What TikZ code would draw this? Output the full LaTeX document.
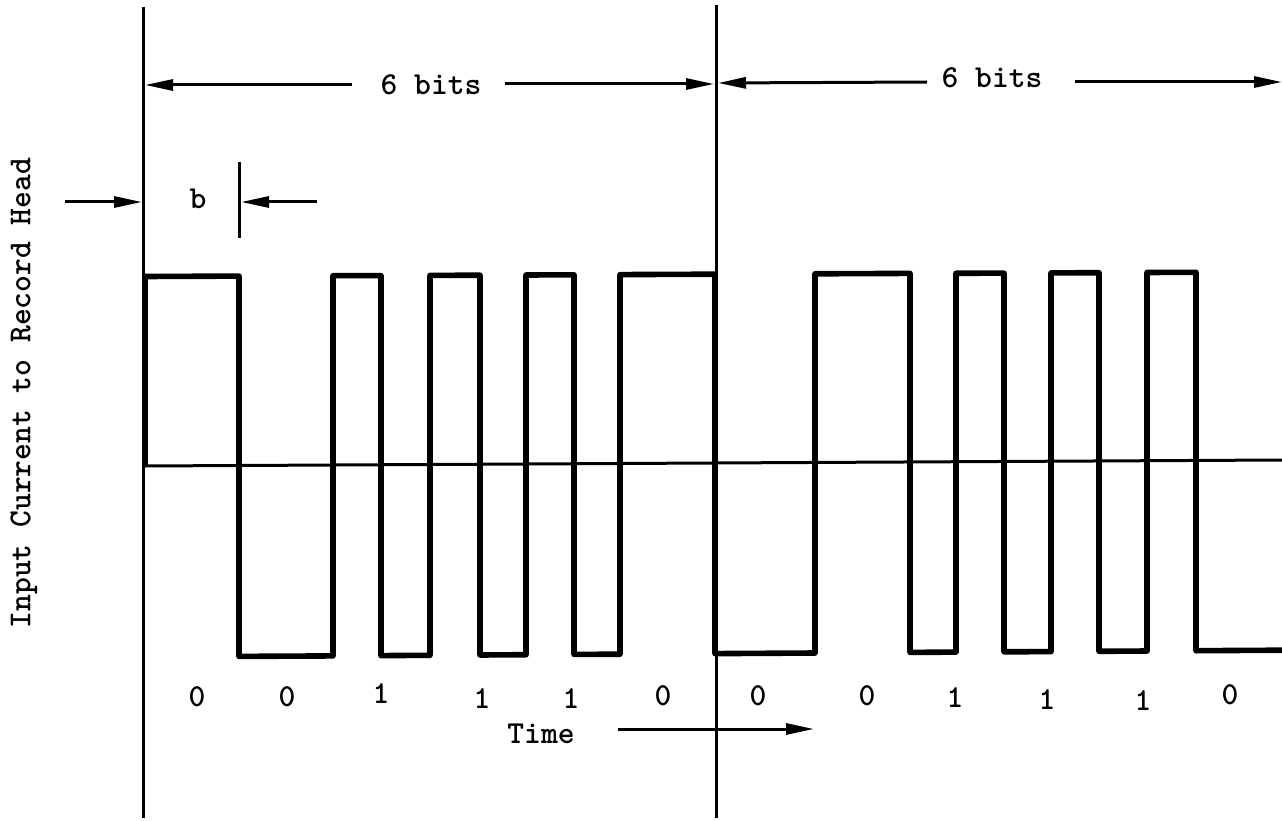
\documentclass[tikz,border=0pt]{standalone}
\usepackage{fontspec}
\usetikzlibrary{arrows.meta}
\begin{document}
\begin{tikzpicture}[x=1pt,y=-1pt,
  thin line/.style={line width=3pt},
  wave/.style={line width=5.6pt,line join=round},
  dim arrow/.style={thin line,-{Triangle[length=28pt,width=11pt]}},
  lbl/.style={font=\fontsize{32}{36}\selectfont\ttfamily\bfseries,inner sep=0pt},
  bit/.style={lbl}]
\useasboundingbox (0,0) rectangle (1282,821);

% frame lines marking the start of each 6-bit group
\coordinate (v1t) at (143,7);   \coordinate (v1b) at (143,818);
\coordinate (v2t) at (716,5);   \coordinate (v2b) at (716,818);
\draw[thin line] (v1t) -- (v1b);
\draw[thin line] (v2t) -- (v2b);

% zero-current axis
\coordinate (ax0) at (145,466); \coordinate (ax1) at (1282,460);
\draw[thin line] (ax0) -- (ax1);

% 6-bit spans
\node[lbl] (g1) at (431,85) {6 bits};
\node[lbl] (g2) at (992,78) {6 bits};
\coordinate (g1l) at (352,85);  \coordinate (g1lt) at (145,85);
\coordinate (g1r) at (505,84);  \coordinate (g1rt) at (714,84);
\coordinate (g2l) at (927,82);  \coordinate (g2lt) at (718,83);
\coordinate (g2r) at (1075,82); \coordinate (g2rt) at (1282,82);
\draw[dim arrow] (g1l) -- (g1lt);
\draw[dim arrow] (g1r) -- (g1rt);
\draw[dim arrow] (g2l) -- (g2lt);
\draw[dim arrow] (g2r) -- (g2rt);

% bit cell width b
\node[lbl] (b) at (198,199) {b};
\coordinate (bt) at (239,162); \coordinate (bb) at (239,238);
\draw[thin line] (bt) -- (bb);
\coordinate (bl) at (65,202);  \coordinate (blt) at (142,202);
\coordinate (br) at (317,202); \coordinate (brt) at (241,202);
\draw[dim arrow] (bl) -- (blt);
\draw[dim arrow] (br) -- (brt);

% record head current waveform
\draw[wave] (145,466) -- (145,276.5) -- (239,276.1) -- (239,656.4)
  -- (333,655.9) -- (333,275.7) -- (381,275.6) -- (381,655.6)
  -- (430,655.3) -- (430,275.4) -- (480,275.2) -- (480,655.0)
  -- (526,654.7) -- (526,275.0) -- (574,274.8) -- (574,654.4)
  -- (620,654.2) -- (620,274.6) -- (715,274.2) -- (715,653.6)
  -- (815,653.0) -- (815,273.8) -- (910,273.4) -- (910,652.4)
  -- (956,652.1) -- (956,273.3) -- (1004,273.1) -- (1004,651.8)
  -- (1051,651.6) -- (1051,272.9) -- (1099,272.7) -- (1099,651.3)
  -- (1147,651.0) -- (1147,272.5) -- (1196,272.3) -- (1196,650.7)
  -- (1282,650.2);

% bit values
\node[bit] (d1)  at (197,697)  {0};
\node[bit] (d2)  at (287,697)  {0};
\node[bit] (d3)  at (381,694)  {1};
\node[bit] (d4)  at (482,699)  {1};
\node[bit] (d5)  at (571,699)  {1};
\node[bit] (d6)  at (663,696)  {0};
\node[bit] (d7)  at (758,696)  {0};
\node[bit] (d8)  at (867,696)  {0};
\node[bit] (d9)  at (955,698)  {1};
\node[bit] (d10) at (1047,700) {1};
\node[bit] (d11) at (1143,701) {1};
\node[bit] (d12) at (1230,695) {0};

% time axis label
\node[lbl] (time) at (541,734) {Time};
\coordinate (tl) at (618,729); \coordinate (tr) at (814,729);
\draw[dim arrow] (tl) -- (tr);

% vertical axis label
\node[lbl,rotate=90] (ylab) at (24,393) {Input Current to Record Head};
\end{tikzpicture}
\end{document}
